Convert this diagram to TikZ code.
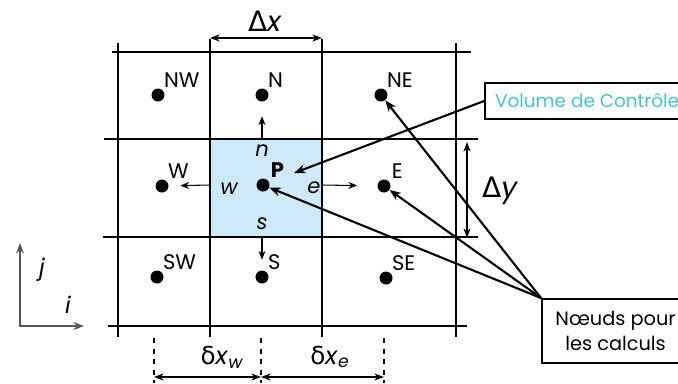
\documentclass[tikz,border=0pt]{standalone}
\usepackage{fontspec}
\setmainfont{Poppins}
\newfontfamily\grkfont{DejaVu Sans}
\usetikzlibrary{arrows.meta,positioning}
\definecolor{cvblue}{RGB}{206,234,250}
\definecolor{cvtext}{RGB}{72,196,204}
\definecolor{axisgray}{RGB}{85,85,85}

\begin{document}
\begin{tikzpicture}[
    x=0.02cm, y=-0.02cm,
    every node/.style={font=\fontsize{10.5}{12}\selectfont},
    gridline/.style={draw=black, line width=0.8pt},
    cvcell/.style={rectangle, fill=cvblue, inner sep=0pt,
                   minimum width=2.24cm, minimum height=1.96cm},
    dot/.style={circle, fill=black, inner sep=0pt, minimum size=0.26cm},
    nodelbl/.style={inner sep=1.5pt, font=\fontsize{12}{14}\selectfont},
    facelbl/.style={inner sep=0pt, font=\itshape\fontsize{12}{14}\selectfont},
    dimlbl/.style={inner sep=0pt, font=\fontsize{13}{15}\selectfont},
    facearr/.style={-{Stealth[length=5pt,width=4pt]}, line width=0.6pt},
    dimarr/.style={{Stealth[length=5.5pt,width=4pt]}-{Stealth[length=5.5pt,width=4pt]}, line width=0.6pt},
    axisarr/.style={{Stealth[length=6pt,width=4.5pt]}-{Stealth[length=6pt,width=4.5pt]},
                    line width=0.8pt, draw=axisgray},
    callarr/.style={-{Stealth[length=6.5pt,width=5pt]}, line width=1.2pt},
    callbox/.style={rectangle, draw=black, line width=1.2pt, inner sep=0pt,
                    align=center, font=\fontsize{11}{14.5}\selectfont},
]

\useasboundingbox (0,0) rectangle (678,383);

% control volume
\node[cvcell] (cv) at (266,188) {};

% grid
\draw[gridline] (112,52)  -- (471,52);
\draw[gridline] (104,139) -- (478,139);
\draw[gridline] (103,237) -- (478,237);
\draw[gridline] (108,326) -- (467,326);
\draw[gridline] (118,43)  -- (118,337);
\draw[gridline] (210,39)  -- (210,337);
\draw[gridline] (322,39)  -- (322,337);
\draw[gridline] (456,43)  -- (456,337);

% nodes of the mesh
\node[dot] (NW) at (158,95)  {};
\node[dot] (N)  at (262,95)  {};
\node[dot] (NE) at (381,95)  {};
\node[dot] (W)  at (162,186) {};
\node[dot] (P)  at (263,185) {};
\node[dot] (E)  at (384,186) {};
\node[dot] (SW) at (157,277) {};
\node[dot] (S)  at (262,277) {};
\node[dot] (SE) at (386,278) {};

\node[nodelbl, above right=0pt and -1pt of NW] (tNW) {NW};
\node[nodelbl, above right=0pt and -1pt of N]  (tN)  {N};
\node[nodelbl, above right=0pt and -1pt of NE] (tNE) {NE};
\node[nodelbl, above right=0pt and -1pt of W]  (tW)  {W};
\node[nodelbl, above right=0pt and 0pt of P, font=\bfseries\fontsize{12}{14}\selectfont] (tP) {P};
\node[nodelbl, above right=0pt and 0pt of E]  (tE)  {E};
\node[nodelbl, above right=0pt and -1pt of SW] (tSW) {SW};
\node[nodelbl, above right=0pt and -1pt of S]  (tS)  {S};
\node[nodelbl, above right=0pt and -1pt of SE] (tSE) {SE};

% faces
\node[facelbl] (ln) at (262,151) {n};
\node[facelbl] (lw) at (229,189) {w};
\node[facelbl] (le) at (314,188) {e};
\node[facelbl] (ls) at (262,224) {s};

\draw[facearr, shorten >=0.29cm] (cv.north -| N) -- (N);
\draw[facearr, shorten >=0.23cm] (cv.west |- P) -- (W);
\draw[facearr, shorten >=0.40cm] (cv.east |- P) -- (E);
\draw[facearr, shorten >=0.21cm] (cv.south -| S) -- (S);

% dimensions
\coordinate (dxL) at (210,38);
\coordinate (dxR) at (322,38);
\draw[dimarr] (dxL) -- (dxR);
\node[dimlbl, font=\fontsize{16}{18}\selectfont] (dx) at (265,21) {{\grkfont Δ}\textit{x}};

\coordinate (dyT) at (467,142);
\coordinate (dyB) at (467,238);
\draw[dimarr] (dyT) -- (dyB);
\node[dimlbl, font=\fontsize{16}{18}\selectfont] (dy) at (500,191) {{\grkfont Δ}\textit{y}};

\coordinate (dw1) at (154,338);
\coordinate (dw2) at (261,338);
\coordinate (de2) at (384,338);
\draw[dashed, line width=0.6pt] (dw1) -- ++(0,45);
\draw[dashed, line width=0.6pt] (dw2) -- ++(0,45);
\draw[dashed, line width=0.6pt] (de2) -- ++(0,45);
\draw[dimarr] ([yshift=-0.78cm]dw1) -- ([yshift=-0.78cm]dw2);
\draw[dimarr] ([yshift=-0.78cm]dw2) -- ([yshift=-0.78cm]de2);
\node[dimlbl, font=\fontsize{14}{16}\selectfont] (dxw) at (222,357) {{\grkfont δ}\textit{x}\textsubscript{\itshape w}};
\node[dimlbl, font=\fontsize{14}{16}\selectfont] (dxe) at (330,357) {{\grkfont δ}\textit{x}\textsubscript{\itshape e}};

% axes
\coordinate (org) at (20,326);
\coordinate (yax) at (20,243);
\coordinate (xax) at (84,326);
\draw[axisarr] (yax) -- (org) -- (xax);
\node[facelbl, font=\itshape\fontsize{13}{15}\selectfont] (lj) at (42,270) {j};
\node[facelbl, font=\itshape\fontsize{13}{15}\selectfont] (li) at (68,305) {i};

% callouts
\node[callbox, anchor=north west, minimum width=3.88cm, minimum height=0.72cm,
      text=cvtext, font=\fontsize{10.5}{12}\selectfont] (vol) at (484,82) {\hspace*{0.2cm}Volume de Contrôle};
\node[callbox, anchor=north west, minimum width=2.74cm, minimum height=1.28cm]
      (calc) at (541,298) {\hspace*{0.2cm}Nœuds pour\\\hspace*{0.2cm}les calculs};

\coordinate (volTip) at (294,173);
\draw[callarr] (vol.west) -- (volTip);
\draw[callarr] (calc.north west) -- (NE);
\draw[callarr] (calc.north west) -- (E);
\draw[callarr] (calc.north west) -- (P);

\end{tikzpicture}
\end{document}
